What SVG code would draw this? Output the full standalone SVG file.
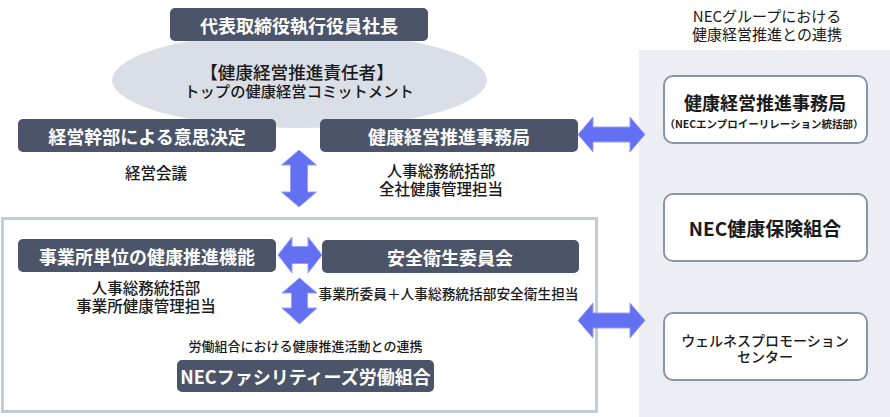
<svg xmlns="http://www.w3.org/2000/svg" width="890" height="417" viewBox="0 0 890 417">
<style>
text{font-family:"Noto Sans CJK JP","Noto Sans",sans-serif;text-anchor:middle;dominant-baseline:central;fill:#1a1a1a}
.dark{fill:#4B5469}
.dt{fill:#ffffff;font-weight:700;font-size:18px}
.lbl{font-size:15.5px;font-weight:500}
.wb{fill:#ffffff;stroke:#8A92AE;stroke-width:2}
.arr{fill:#6470F2;stroke:#98A0F6;stroke-width:1}
</style>
<rect x="639" y="50" width="251" height="367" fill="#EDEEF3"/>
<g id="panel-title">
<text font-size="15" font-weight="400"><tspan x="767" y="15">NECグループにおける</tspan><tspan x="767" y="33">健康経営推進との連携</tspan></text>
</g>
<rect id="site-frame" x="2.5" y="218.5" width="594" height="193" fill="#ffffff" stroke="#C6CBD8" stroke-width="3"/>
<g id="commit">
<ellipse cx="299.5" cy="80" rx="187.5" ry="48" fill="#DADEE7"/>
<text font-weight="500"><tspan x="297" y="71" font-size="17.6">【健康経営推進責任者】</tspan><tspan x="299" y="90" font-size="15.3">トップの健康経営コミットメント</tspan></text>
</g>
<g id="president">
<rect class="dark" x="170" y="8" width="258" height="33" rx="5"/>
<text class="dt" x="299" y="24.5">代表取締役執行役員社長</text>
</g>
<g id="decision">
<rect class="dark" x="18" y="119" width="258" height="33" rx="5"/>
<text class="dt" x="147" y="135.5">経営幹部による意思決定</text>
<text class="lbl" x="156" y="172">経営会議</text>
</g>
<g id="office">
<rect class="dark" x="320" y="119" width="258" height="33" rx="5"/>
<text class="dt" x="449" y="135.5">健康経営推進事務局</text>
<text class="lbl"><tspan x="441" y="170">人事総務統括部</tspan><tspan x="441" y="188">全社健康管理担当</tspan></text>
</g>
<g id="site-health">
<rect class="dark" x="18" y="239" width="258" height="33" rx="5"/>
<text class="dt" x="147" y="255.5">事業所単位の健康推進機能</text>
<text class="lbl"><tspan x="146" y="287">人事総務統括部</tspan><tspan x="146" y="305">事業所健康管理担当</tspan></text>
</g>
<g id="safety">
<rect class="dark" x="322" y="240" width="257" height="33" rx="5"/>
<text class="dt" x="450" y="256.5">安全衛生委員会</text>
<text x="448.5" y="293" font-size="13.7" font-weight="500">事業所委員＋人事総務統括部安全衛生担当</text>
</g>
<g id="union">
<text x="305.5" y="345" font-size="13" font-weight="500">労働組合における健康推進活動との連携</text>
<rect class="dark" x="177" y="360" width="257" height="32" rx="5"/>
<text class="dt" x="305.5" y="376">NECファシリティーズ労働組合</text>
</g>
<g id="group-office">
<rect class="wb" x="664" y="76" width="203" height="67" rx="9"/>
<text font-weight="700"><tspan x="765" y="102" font-size="18">健康経営推進事務局</tspan><tspan x="764" y="123" font-size="10.5">（NECエンプロイーリレーション統括部）</tspan></text>
</g>
<g id="kenpo">
<rect class="wb" x="664" y="194" width="203" height="67" rx="9"/>
<text x="765" y="227" font-size="19" font-weight="700">NEC健康保険組合</text>
</g>
<g id="wellness">
<rect class="wb" x="664" y="313" width="203" height="67" rx="9"/>
<text font-size="14" font-weight="500"><tspan x="765" y="340">ウェルネスプロモーション</tspan><tspan x="765" y="356">センター</tspan></text>
</g>
<g id="connectors">
<path class="arr" d="M299,150 L316.5,165 L307.5,165 L307.5,192 L316.5,192 L299,207 L281.5,192 L290.5,192 L290.5,165 L281.5,165 Z"/>
<path class="arr" d="M299.5,278 L317,293 L307.5,293 L307.5,308 L317,308 L299.5,324 L282,308 L291.5,308 L291.5,293 L282,293 Z"/>
<path class="arr" d="M278,255 L292,237 L292,246.5 L308,246.5 L308,237 L322,255 L308,273 L308,263.5 L292,263.5 L292,273 Z"/>
<path class="arr" d="M578,134.5 L593,117 L593,127 L630,127 L630,117 L645,134.5 L630,152 L630,142 L593,142 L593,152 Z"/>
<path class="arr" d="M578,320.5 L593,303 L593,313 L630,313 L630,303 L645,320.5 L630,338 L630,328 L593,328 L593,338 Z"/>
</g>
</svg>
